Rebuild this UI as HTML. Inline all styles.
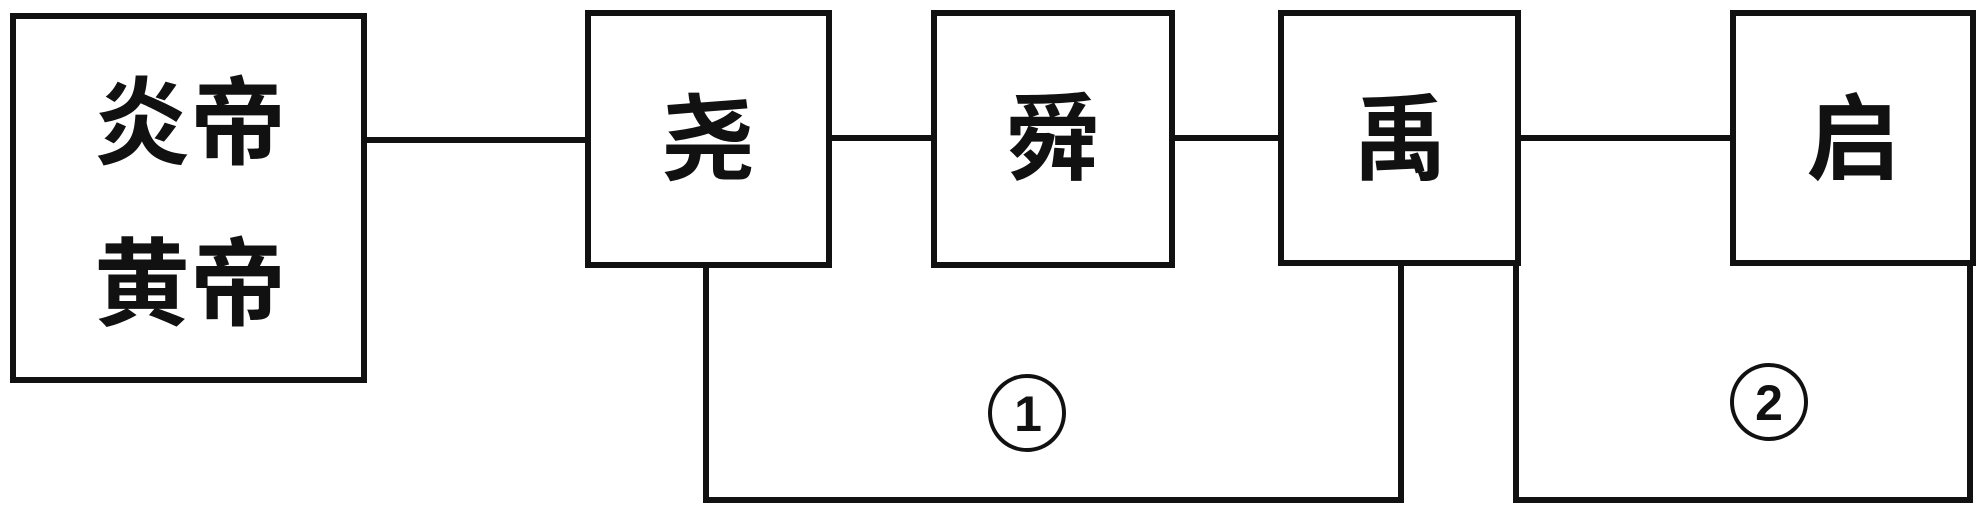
<!DOCTYPE html>
<html><head><meta charset="utf-8"><style>
html,body{margin:0;padding:0;background:#fff;}
svg text{font-family:"Liberation Sans","Noto Sans CJK SC",sans-serif;font-weight:bold;fill:#111;}
</style></head><body>
<svg width="1984" height="516" viewBox="0 0 1984 516" xmlns="http://www.w3.org/2000/svg">
<g fill="none" stroke="#111" stroke-width="6" stroke-linejoin="miter">
<rect x="13" y="16" width="351" height="364"/>
<rect x="588" y="13" width="241" height="252"/>
<rect x="934" y="13" width="238" height="252"/>
<rect x="1281" y="13" width="237" height="250"/>
<rect x="1733" y="13" width="240" height="250"/>
<line x1="364" y1="140" x2="588" y2="140"/>
<line x1="829" y1="138" x2="934" y2="138"/>
<line x1="1172" y1="138" x2="1281" y2="138"/>
<line x1="1518" y1="138" x2="1733" y2="138"/>
<polyline points="706,265 706,500 1401,500 1401,263"/>
<polyline points="1516,263 1516,500 1970,500 1970,263"/>
<circle cx="1027" cy="413" r="37" stroke-width="4"/>
<circle cx="1769" cy="402" r="37" stroke-width="4"/>
</g>
<g text-anchor="middle">
<text x="190" y="157" font-size="96">炎帝</text>
<text x="190" y="318" font-size="96">黄帝</text>
<text x="708" y="172" font-size="94">尧</text>
<text x="1053" y="172" font-size="94">舜</text>
<text x="1400" y="172" font-size="94">禹</text>
<text x="1853" y="172" font-size="94">启</text>
<text x="1028" y="431" font-size="50" font-family="Liberation Sans,sans-serif">1</text>
<text x="1769" y="420" font-size="50" font-family="Liberation Sans,sans-serif">2</text>
</g>
</svg>
</body></html>
